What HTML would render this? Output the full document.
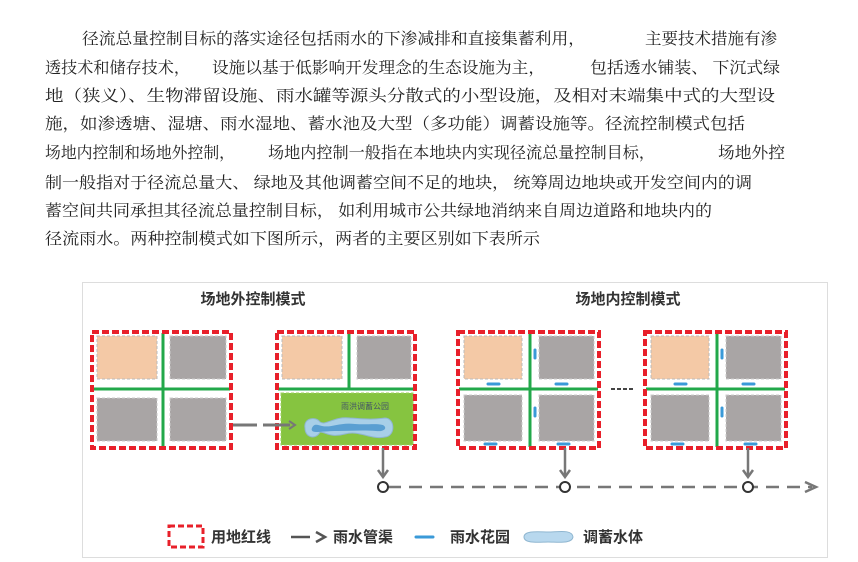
<!DOCTYPE html>
<html><head><meta charset="utf-8"><style>
html,body{margin:0;padding:0;background:#fff;}
svg{display:block;}
.t{font-family:"Noto Serif CJK SC","Liberation Serif",serif;font-size:16px;fill:#222;}
.h{font-family:"Liberation Sans","Noto Sans CJK SC",sans-serif;font-size:15px;font-weight:bold;fill:#333;}
.l{font-family:"Liberation Sans","Noto Sans CJK SC",sans-serif;font-size:15px;font-weight:bold;fill:#333;}
</style></head><body>
<svg width="858" height="562" viewBox="0 0 858 562" xmlns="http://www.w3.org/2000/svg">
<g class="t">
<text x="82" y="44" textLength="503" lengthAdjust="spacingAndGlyphs">径流总量控制目标的落实途径包括雨水的下渗减排和直接集蓄利用，</text>
<text x="645" y="44" textLength="132" lengthAdjust="spacingAndGlyphs">主要技术措施有渗</text>
<text x="45" y="73" textLength="145" lengthAdjust="spacingAndGlyphs">透技术和储存技术，</text>
<text x="212" y="73" textLength="333" lengthAdjust="spacingAndGlyphs">设施以基于低影响开发理念的生态设施为主，</text>
<text x="590" y="73" textLength="190" lengthAdjust="spacingAndGlyphs">包括透水铺装、 下沉式绿</text>
<text x="45" y="101" textLength="730" lengthAdjust="spacingAndGlyphs">地（狭义）、生物滞留设施、雨水罐等源头分散式的小型设施，及相对末端集中式的大型设</text>
<text x="45" y="129" textLength="700" lengthAdjust="spacingAndGlyphs">施，如渗透塘、湿塘、雨水湿地、蓄水池及大型（多功能）调蓄设施等。径流控制模式包括</text>
<text x="45" y="158" textLength="190" lengthAdjust="spacingAndGlyphs">场地内控制和场地外控制，</text>
<text x="268" y="158" textLength="387" lengthAdjust="spacingAndGlyphs">场地内控制一般指在本地块内实现径流总量控制目标，</text>
<text x="718" y="158" textLength="67" lengthAdjust="spacingAndGlyphs">场地外控</text>
<text x="45" y="188" textLength="707" lengthAdjust="spacingAndGlyphs">制一般指对于径流总量大、 绿地及其他调蓄空间不足的地块， 统筹周边地块或开发空间内的调</text>
<text x="45" y="216" textLength="667" lengthAdjust="spacingAndGlyphs">蓄空间共同承担其径流总量控制目标， 如利用城市公共绿地消纳来自周边道路和地块内的</text>
<text x="45" y="244" textLength="495" lengthAdjust="spacingAndGlyphs">径流雨水。两种控制模式如下图所示，两者的主要区别如下表所示</text>
</g>

<rect x="82.5" y="282.5" width="745" height="275" fill="#fff" stroke="#ddd"/>
<text class="h" x="253" y="304" text-anchor="middle">场地外控制模式</text>
<text class="h" x="628" y="304" text-anchor="middle">场地内控制模式</text>

<!-- Box A -->
<g>
<rect x="97" y="336" width="60" height="43" fill="#f4c9a6" stroke="#bbb" stroke-dasharray="3 2"/>
<rect x="170" y="336" width="56" height="43" fill="#a9a5a5" stroke="#ccc" stroke-dasharray="3 2"/>
<rect x="97" y="398" width="60" height="43" fill="#a9a5a5" stroke="#ccc" stroke-dasharray="3 2"/>
<rect x="170" y="398" width="56" height="43" fill="#a9a5a5" stroke="#ccc" stroke-dasharray="3 2"/>
<line x1="163" y1="333" x2="163" y2="447" stroke="#22a84a" stroke-width="3"/>
<line x1="93" y1="389" x2="230" y2="389" stroke="#22a84a" stroke-width="3"/>
<rect x="92" y="332" width="139" height="116" fill="none" stroke="#e8202a" stroke-width="4" stroke-dasharray="7 3"/>
</g>

<!-- Box B -->
<g>
<rect x="282" y="336" width="60" height="43" fill="#f4c9a6" stroke="#bbb" stroke-dasharray="3 2"/>
<rect x="357" y="336" width="54" height="43" fill="#a9a5a5" stroke="#ccc" stroke-dasharray="3 2"/>
<line x1="349" y1="333" x2="349" y2="389" stroke="#22a84a" stroke-width="3"/>
<line x1="278" y1="389" x2="414" y2="389" stroke="#22a84a" stroke-width="3"/>
<rect x="281" y="393" width="132" height="52" fill="#86c440" stroke="#9dd060" stroke-dasharray="3 2"/>
<text x="365" y="409" font-family="Liberation Sans,'Noto Sans CJK SC',sans-serif" font-size="8" fill="#456" text-anchor="middle">雨洪调蓄公园</text>
<path d="M305 428 C303 418,316 416,320 422 C326 426,334 416,350 418 C365 419,372 420,385 418 C395 418,396 436,385 437 C370 440,360 430,345 434 C330 438,326 432,320 432 C316 440,305 438,305 428 Z" fill="#a8cfe8" stroke="#8fb6d0"/>
<path d="M312 428 C314 423,318 425,322 426 C332 428,340 422,355 424 C368 425,375 423,383 425 C388 428,384 432,376 431 C362 430,350 431,338 431 C328 431,320 432,316 432 C312 432,311 430,312 428 Z" fill="#5a9fd2"/>
<rect x="277" y="332" width="138" height="116" fill="none" stroke="#e8202a" stroke-width="4" stroke-dasharray="7 3"/>
</g>

<!-- dashed arrow A->B -->
<line x1="233" y1="425" x2="257" y2="425" stroke="#777" stroke-width="3"/>
<line x1="263" y1="425" x2="290" y2="425" stroke="#777" stroke-width="3"/>
<path d="M289 421 L295 425 L289 429" fill="none" stroke="#777" stroke-width="2"/>

<!-- Box C and D -->
<g id="boxC">
<rect x="464" y="336" width="58" height="43" fill="#f4c9a6" stroke="#bbb" stroke-dasharray="3 2"/>
<rect x="539" y="336" width="55" height="43" fill="#a9a5a5" stroke="#ccc" stroke-dasharray="3 2"/>
<rect x="464" y="395" width="58" height="46" fill="#a9a5a5" stroke="#ccc" stroke-dasharray="3 2"/>
<rect x="539" y="395" width="55" height="46" fill="#a9a5a5" stroke="#ccc" stroke-dasharray="3 2"/>
<line x1="530" y1="333" x2="530" y2="447" stroke="#22a84a" stroke-width="3"/>
<line x1="459" y1="389" x2="598" y2="389" stroke="#22a84a" stroke-width="3"/>
<g stroke="#3a9ad8" stroke-width="3" stroke-linecap="round">
<line x1="488" y1="384" x2="499" y2="384"/>
<line x1="556" y1="384" x2="567" y2="384"/>
<line x1="485" y1="444" x2="496" y2="444"/>
<line x1="558" y1="444" x2="569" y2="444"/>
<line x1="535" y1="350" x2="535" y2="358"/>
<line x1="535" y1="408" x2="535" y2="416"/>
</g>
<rect x="458" y="332" width="141" height="116" fill="none" stroke="#e8202a" stroke-width="4" stroke-dasharray="7 3"/>
</g>
<use href="#boxC" x="187"/>

<line x1="611" y1="389" x2="635" y2="389" stroke="#444" stroke-width="2" stroke-dasharray="4 2"/>

<!-- down arrows -->
<g stroke="#777" stroke-width="2.5" fill="none">
<line x1="383" y1="448" x2="383" y2="477"/><path d="M378 470 L383 477 L388 470"/>
<line x1="565" y1="448" x2="565" y2="477"/><path d="M560 470 L565 477 L570 470"/>
<line x1="748" y1="448" x2="748" y2="477"/><path d="M743 470 L748 477 L753 470"/>
</g>
<!-- pipe line -->
<line x1="388" y1="487" x2="812" y2="487" stroke="#777" stroke-width="2.5" stroke-dasharray="13 8"/>
<path d="M805 482 L816 487 L805 492" fill="none" stroke="#777" stroke-width="2.5"/>
<g fill="#fff" stroke="#333" stroke-width="2">
<circle cx="383" cy="487" r="5"/><circle cx="565" cy="487" r="5"/><circle cx="748" cy="487" r="5"/>
</g>

<!-- legend -->
<rect x="169" y="526" width="34" height="21" fill="none" stroke="#e8202a" stroke-width="3" stroke-dasharray="6 3"/>
<text class="l" x="211" y="542">用地红线</text>
<line x1="291" y1="537" x2="310" y2="537" stroke="#555" stroke-width="2.5"/>
<path d="M316 532 L325 537 L316 542" fill="none" stroke="#555" stroke-width="2.5"/>
<text class="l" x="333" y="542">雨水管渠</text>
<line x1="416" y1="537" x2="433" y2="537" stroke="#3a9ad8" stroke-width="3" stroke-linecap="round"/>
<text class="l" x="450" y="542">雨水花园</text>
<path d="M524 537 C524 530,540 532,548 532 C558 532,572 529,573 537 C572 544,558 542,548 542 C540 542,524 544,524 537 Z" fill="#b8d8ee" stroke="#8fb6d0"/>
<text class="l" x="583" y="542">调蓄水体</text>
</svg>
</body></html>
